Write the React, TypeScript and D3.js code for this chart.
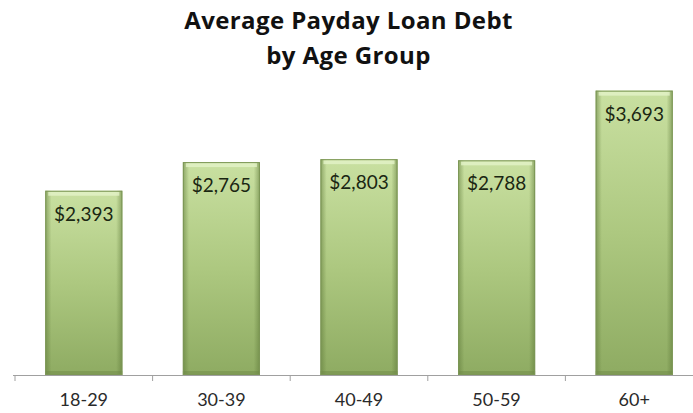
import * as d3 from "d3";

const ageGroups = ["18-29", "30-39", "40-49", "50-59", "60+"];
const avgDebt = [2393, 2765, 2803, 2788, 3693];
const titleLines = ["Average Payday Loan Debt", "by Age Group"];

const W = 693;
const H = 413;

const App = () => {
  const x = d3.scaleBand<string>().domain(ageGroups).range([15, 703]).paddingInner(0.44).paddingOuter(0.22);
  const y = d3.scaleLinear().domain([0, 4000]).range([375, 67]);
  const fmt = d3.format("$,");
  const step = x.step();
  const tickXs = ageGroups.map((g) => (x(g) as number) - (x.paddingInner() * step) / 2);

  return (
    <svg width={W} height={H} style={{ position: "absolute", left: 0, top: 0, background: "#fff" }}>
      <defs>
        <linearGradient id="barV" x1="0" y1="0" x2="0" y2="1">
          <stop offset="0" stopColor="#c9e0a1" />
          <stop offset="0.5" stopColor="#adc880" />
          <stop offset="1" stopColor="#8eab62" />
        </linearGradient>
        <linearGradient id="barH" x1="0" y1="0" x2="1" y2="0">
          <stop offset="0" stopColor="#5d7838" stopOpacity="0.55" />
          <stop offset="0.08" stopColor="#5d7838" stopOpacity="0" />
          <stop offset="0.92" stopColor="#5d7838" stopOpacity="0" />
          <stop offset="1" stopColor="#5d7838" stopOpacity="0.55" />
        </linearGradient>
      </defs>
      <text textAnchor="middle" fontFamily="Open Sans" fontWeight="bold" fontSize={24} fill="#111" letterSpacing={0.4}>
        {titleLines.map((t, i) => (
          <tspan key={i} x={W / 2 + 2} y={29 + i * 35}>
            {t}
          </tspan>
        ))}
      </text>

      {ageGroups.map((g, i) => {
        const bx = x(g) as number;
        const bw = x.bandwidth();
        const by = y(avgDebt[i]);
        const bh = y(0) - by;
        return (
          <g key={g}>
            <rect x={bx} y={by} width={bw} height={bh} fill="url(#barV)" />
            <rect x={bx} y={by} width={bw} height={bh} fill="url(#barH)" />
            <rect x={bx + 3} y={by + 1} width={bw - 6} height={4} fill="#e4f2c8" opacity={0.8} />
            <rect x={bx} y={y(0) - 4} width={bw} height={4} fill="#6f8a48" opacity={0.5} />
            <rect x={bx + 0.5} y={by + 0.5} width={bw - 1} height={bh - 1} fill="none" stroke="#7c9656" strokeWidth={1} />
            <text x={bx + bw / 2} y={by + 30} textAnchor="middle" fontFamily="Lato" fontSize={19} fill="#1a2612">
              {fmt(avgDebt[i])}
            </text>
          </g>
        );
      })}

      <line x1={13} x2={W} y1={375.5} y2={375.5} stroke="#a0a0a0" strokeWidth={1} />
      {tickXs.map((tx, i) => (
        <line key={i} x1={tx} x2={tx} y1={375} y2={381} stroke="#a0a0a0" strokeWidth={1} />
      ))}
      {ageGroups.map((g) => (
        <text
          key={g}
          x={(x(g) as number) + x.bandwidth() / 2}
          y={406}
          textAnchor="middle"
          fontFamily="Lato"
          fontSize={18}
          fill="#2a2a2a"
        >
          {g}
        </text>
      ))}
    </svg>
  );
};

export default App;
